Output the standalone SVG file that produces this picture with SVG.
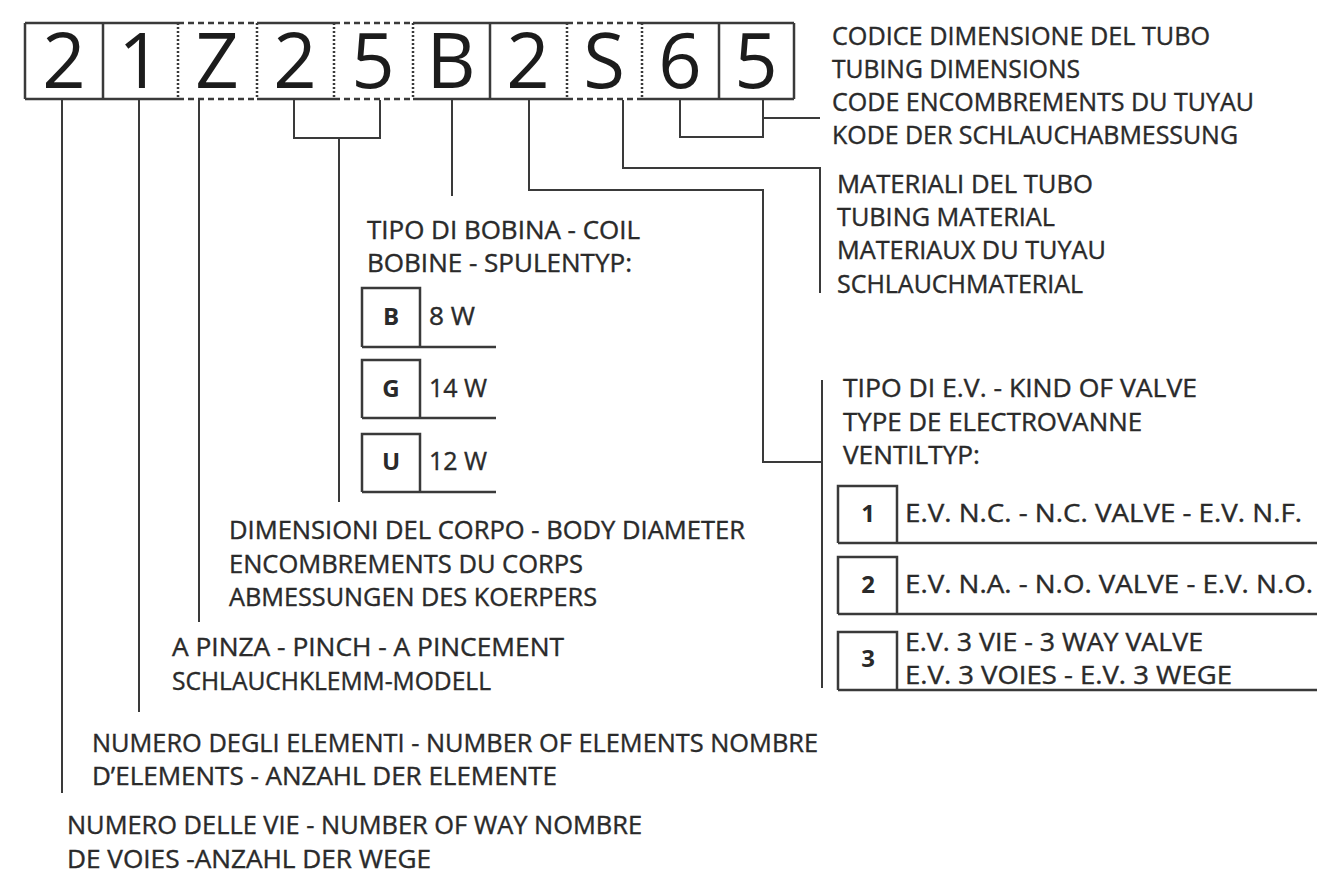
<svg xmlns="http://www.w3.org/2000/svg" width="1317" height="875" viewBox="0 0 1317 875">
<style>
.bg{fill:#ffffff}
.t{font-family:"Open Sans","Noto Sans","DejaVu Sans",sans-serif;font-size:26px;fill:#2a2a2a;stroke:#2a2a2a;stroke-width:0.4}
.d{font-family:"Open Sans","Noto Sans","DejaVu Sans",sans-serif;font-size:76px;fill:#1c1c1c;text-anchor:middle}
.k{font-family:"Open Sans","Noto Sans","DejaVu Sans",sans-serif;font-size:24px;font-weight:bold;fill:#2a2a2a;text-anchor:middle}
.s{fill:none;stroke:#3a3a3a;stroke-width:2.5}
.ds{fill:none;stroke:#3a3a3a;stroke-width:2.5;stroke-dasharray:6 4}
.dt{fill:none;stroke:#3a3a3a;stroke-width:2.5;stroke-dasharray:2 2}
.c{fill:none;stroke:#3a3a3a;stroke-width:2}
.tb{fill:none;stroke:#3a3a3a;stroke-width:2.5}
</style>
<rect class="bg" x="0" y="0" width="1317" height="875"/>

<g id="code">
  <path class="s" d="M25,23 H178 M25,99 H178 M257,23 H334 M257,99 H334 M413,23 H567 M413,99 H567 M642,23 H794 M642,99 H794"/>
  <path class="ds" d="M178,23 H257 M178,99 H257 M334,23 H413 M334,99 H413 M567,23 H642 M567,99 H642"/>
  <path class="s" d="M25,23 V99 M103,23 V99 M490,23 V99 M719,23 V99 M794,23 V99"/>
  <path class="dt" d="M178,23 V99 M257,23 V99 M334,23 V99 M413,23 V99 M567,23 V99 M642,23 V99"/>
  <text class="d" x="64" y="88">2</text>
  <text class="d" x="140" y="88">1</text>
  <text class="d" x="217" y="88">Z</text>
  <text class="d" x="295" y="88">2</text>
  <text class="d" x="373" y="88">5</text>
  <text class="d" x="451" y="88">B</text>
  <text class="d" x="528" y="88">2</text>
  <text class="d" x="604" y="88">S</text>
  <text class="d" x="680" y="88">6</text>
  <text class="d" x="756" y="88">5</text>
</g>

<g id="connectors">
  <path class="c" d="M62,100 V793"/>
  <path class="c" d="M139,100 V712"/>
  <path class="c" d="M199,100 V622"/>
  <path class="c" d="M294,100 V138 H380 V100 M339,138 V502"/>
  <path class="c" d="M452,100 V196"/>
  <path class="c" d="M529,100 V190 H763 V462 H822"/>
  <path class="c" d="M822,380 V688"/>
  <path class="c" d="M623,100 V168 H820 V293"/>
  <path class="c" d="M680,100 V137 H763 V100 M763,118 H820"/>
</g>

<g id="tubing-dimensions">
  <text class="t" x="832" y="45" textLength="378" lengthAdjust="spacingAndGlyphs">CODICE DIMENSIONE DEL TUBO</text>
  <text class="t" x="832" y="78" textLength="248" lengthAdjust="spacingAndGlyphs">TUBING DIMENSIONS</text>
  <text class="t" x="832" y="111" textLength="422" lengthAdjust="spacingAndGlyphs">CODE ENCOMBREMENTS DU TUYAU</text>
  <text class="t" x="832" y="144" textLength="406" lengthAdjust="spacingAndGlyphs">KODE DER SCHLAUCHABMESSUNG</text>
</g>

<g id="tubing-material">
  <text class="t" x="837" y="193" textLength="256" lengthAdjust="spacingAndGlyphs">MATERIALI DEL TUBO</text>
  <text class="t" x="837" y="226" textLength="218" lengthAdjust="spacingAndGlyphs">TUBING MATERIAL</text>
  <text class="t" x="837" y="259" textLength="269" lengthAdjust="spacingAndGlyphs">MATERIAUX DU TUYAU</text>
  <text class="t" x="837" y="293" textLength="246" lengthAdjust="spacingAndGlyphs">SCHLAUCHMATERIAL</text>
</g>

<g id="coil-type">
  <text class="t" x="367" y="239" textLength="273" lengthAdjust="spacingAndGlyphs">TIPO DI BOBINA - COIL</text>
  <text class="t" x="367" y="272" textLength="265" lengthAdjust="spacingAndGlyphs">BOBINE - SPULENTYP:</text>
  <path class="tb" d="M362,347 V288 H420 V347 M362,347 H496"/>
  <path class="tb" d="M362,418 V360 H420 V418 M362,418 H496"/>
  <path class="tb" d="M362,492 V434 H420 V492 M362,492 H496"/>
  <text class="k" x="391" y="325">B</text>
  <text class="k" x="391" y="397">G</text>
  <text class="k" x="391" y="470">U</text>
  <text class="t" x="429" y="325" textLength="46" lengthAdjust="spacingAndGlyphs">8 W</text>
  <text class="t" x="429" y="397" textLength="58" lengthAdjust="spacingAndGlyphs">14 W</text>
  <text class="t" x="429" y="470" textLength="58" lengthAdjust="spacingAndGlyphs">12 W</text>
</g>

<g id="valve-type">
  <text class="t" x="843" y="397" textLength="354" lengthAdjust="spacingAndGlyphs">TIPO DI E.V. - KIND OF VALVE</text>
  <text class="t" x="843" y="431" textLength="299" lengthAdjust="spacingAndGlyphs">TYPE DE ELECTROVANNE</text>
  <text class="t" x="843" y="464" textLength="137" lengthAdjust="spacingAndGlyphs">VENTILTYP:</text>
  <path class="tb" d="M838,543 V486 H897 V543 M838,543 H1317"/>
  <path class="tb" d="M838,614 V557 H897 V614 M838,614 H1317"/>
  <path class="tb" d="M838,690 V632 H897 V690 M838,690 H1317"/>
  <text class="k" x="868" y="522">1</text>
  <text class="k" x="868" y="593">2</text>
  <text class="k" x="868" y="667">3</text>
  <text class="t" x="905" y="522" textLength="397" lengthAdjust="spacingAndGlyphs">E.V. N.C. - N.C. VALVE - E.V. N.F.</text>
  <text class="t" x="905" y="593" textLength="408" lengthAdjust="spacingAndGlyphs">E.V. N.A. - N.O. VALVE - E.V. N.O.</text>
  <text class="t" x="905" y="651" textLength="298" lengthAdjust="spacingAndGlyphs">E.V. 3 VIE - 3 WAY VALVE</text>
  <text class="t" x="905" y="684" textLength="327" lengthAdjust="spacingAndGlyphs">E.V. 3 VOIES - E.V. 3 WEGE</text>
</g>

<g id="body-diameter">
  <text class="t" x="229" y="539" textLength="516" lengthAdjust="spacingAndGlyphs">DIMENSIONI DEL CORPO - BODY DIAMETER</text>
  <text class="t" x="229" y="573" textLength="354" lengthAdjust="spacingAndGlyphs">ENCOMBREMENTS DU CORPS</text>
  <text class="t" x="229" y="606" textLength="368" lengthAdjust="spacingAndGlyphs">ABMESSUNGEN DES KOERPERS</text>
</g>

<g id="pinch">
  <text class="t" x="172" y="656" textLength="392" lengthAdjust="spacingAndGlyphs">A PINZA - PINCH - A PINCEMENT</text>
  <text class="t" x="172" y="690" textLength="319" lengthAdjust="spacingAndGlyphs">SCHLAUCHKLEMM-MODELL</text>
</g>

<g id="elements">
  <text class="t" x="92" y="752" textLength="726" lengthAdjust="spacingAndGlyphs">NUMERO DEGLI ELEMENTI - NUMBER OF ELEMENTS NOMBRE</text>
  <text class="t" x="92" y="785" textLength="465" lengthAdjust="spacingAndGlyphs">D’ELEMENTS - ANZAHL DER ELEMENTE</text>
</g>

<g id="ways">
  <text class="t" x="67" y="834" textLength="575" lengthAdjust="spacingAndGlyphs">NUMERO DELLE VIE - NUMBER OF WAY NOMBRE</text>
  <text class="t" x="67" y="868" textLength="364" lengthAdjust="spacingAndGlyphs">DE VOIES -ANZAHL DER WEGE</text>
</g>
</svg>
